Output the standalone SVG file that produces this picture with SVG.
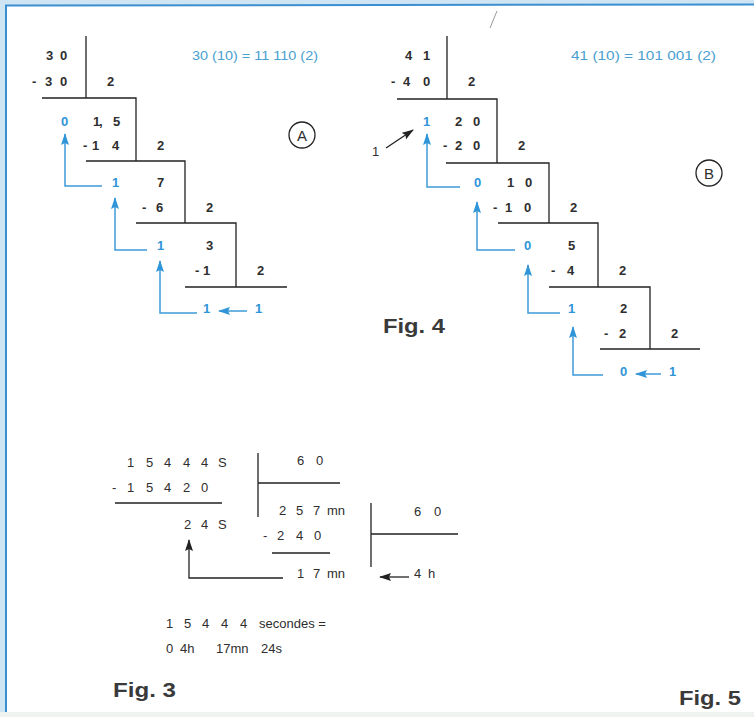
<svg xmlns="http://www.w3.org/2000/svg" width="754" height="717" viewBox="0 0 754 717">
<defs>
<style>
.d{font-family:"Liberation Sans",Arial,sans-serif;font-size:13px;font-weight:bold;fill:#2e2e2e}
.t{font-family:"Liberation Sans",Arial,sans-serif;font-size:13px;fill:#2e2e2e}
.b{fill:#2f95d8}
.eq{font-family:"Liberation Sans",Arial,sans-serif;font-size:13.5px;fill:#4aa0cf}
.fig{font-family:"Liberation Sans",Arial,sans-serif;font-size:21px;font-weight:bold;fill:#3a3a3a}
.ln{stroke:#222;stroke-width:1.3;fill:none}
.ba{stroke:#3d9bd8;stroke-width:1.5;fill:none;marker-end:url(#ab)}
.ka{stroke:#222;stroke-width:1.3;fill:none;marker-end:url(#ak)}
.circ{fill:none;stroke:#222;stroke-width:1.3}
.cl{font-family:"Liberation Sans",Arial,sans-serif;font-size:15px;fill:#2e2e2e}
</style>
<marker id="ab" markerUnits="userSpaceOnUse" markerWidth="12" markerHeight="8" refX="11" refY="4" orient="auto">
<path d="M0,0 L12,4 L0,8 L2,4 z" fill="#2f95d8"/>
</marker>
<marker id="ak" markerUnits="userSpaceOnUse" markerWidth="12" markerHeight="8" refX="11" refY="4" orient="auto">
<path d="M0,0 L12,4 L0,8 L2,4 z" fill="#222"/>
</marker>
</defs>
<rect x="0" y="0" width="754" height="717" fill="#ffffff"/>
<g id="frame">
<rect x="0" y="0" width="754" height="5" fill="#cfe5f4"/>
<rect x="0" y="0" width="5" height="717" fill="#cfe5f4"/>
<rect x="0" y="712" width="754" height="5" fill="#eef3ef"/>
<line x1="5" y1="5.5" x2="754" y2="4.5" stroke="#3b8fd0" stroke-width="2"/>
<line x1="6" y1="5" x2="6" y2="712" stroke="#3b8fd0" stroke-width="2"/>
<line x1="490" y1="28" x2="497" y2="11" stroke="#999" stroke-width="1"/>
</g>

<g id="fig4A">
<g id="A-lines">
<path class="ln" d="M86,36 V98 M42,98 H136 V161 M86,161 H185 V223 M136,223 H236 V287 M185,287 H287"/>
</g>
<text class="d" x="46 60" y="60">30</text>
<text class="d" x="32 45 60" y="86">-30</text>
<text class="d" x="107" y="86">2</text>
<text class="d b" x="61" y="126">0</text>
<text class="d" x="93 99 113" y="126">1,5</text>
<text class="d" x="83 92 112" y="150">-14</text>
<text class="d" x="157" y="150">2</text>
<text class="d b" x="112" y="187">1</text>
<text class="d" x="157" y="187">7</text>
<text class="d" x="142 156" y="212">-6</text>
<text class="d" x="206" y="212">2</text>
<text class="d b" x="157" y="250">1</text>
<text class="d" x="206" y="250">3</text>
<text class="d" x="195 203" y="275">-1</text>
<text class="d" x="257" y="275">2</text>
<text class="d b" x="203" y="313">1</text>
<text class="d b" x="255" y="313">1</text>
<text class="eq" x="192" y="60" textLength="126" lengthAdjust="spacingAndGlyphs">30 (10) = 11 110 (2)</text>
<g id="A-label"><circle class="circ" cx="302" cy="135" r="13"/><text class="cl" x="302" y="140.5" text-anchor="middle">A</text></g>
</g>

<g id="fig4B">
<g id="B-lines">
<path class="ln" d="M447,36 V99 M397,99 H497 V163 M446,163 H549 V223 M498,223 H598 V287 M549,287 H650 V349 M600,349 H700"/>
</g>
<text class="d" x="405 423" y="60">41</text>
<text class="d" x="391 403 423" y="86">-40</text>
<text class="d" x="468" y="86">2</text>
<text class="d b" x="423" y="126">1</text>
<text class="d" x="455 473" y="126">20</text>
<text class="d" x="443 455 473" y="150">-20</text>
<text class="d" x="518" y="150">2</text>
<text class="t" x="372" y="156">1</text>
<text class="d b" x="474" y="187">0</text>
<text class="d" x="507 525" y="187">10</text>
<text class="d" x="493 505 524" y="212">-10</text>
<text class="d" x="570" y="212">2</text>
<text class="d b" x="524" y="250">0</text>
<text class="d" x="568" y="250">5</text>
<text class="d" x="551 567" y="275">-4</text>
<text class="d" x="619" y="275">2</text>
<text class="d b" x="568" y="313">1</text>
<text class="d" x="620" y="313">2</text>
<text class="d" x="604 619" y="338">-2</text>
<text class="d" x="671" y="338">2</text>
<text class="d b" x="620" y="376">0</text>
<text class="d b" x="669" y="376">1</text>
<text class="eq" x="571" y="60" textLength="145" lengthAdjust="spacingAndGlyphs">41 (10) = 101 001 (2)</text>
<g id="B-label"><circle class="circ" cx="709" cy="173" r="13"/><text class="cl" x="709" y="178.5" text-anchor="middle">B</text></g>
</g>

<g id="fig3">
<text class="t" x="127 146 164 183 201 218" y="467">15444S</text>
<text class="t" x="112 127 146 164 183 201" y="492">-15420</text>
<text class="t" x="297 316" y="465">60</text>
<text class="t" x="279 296 313 327" y="515">257mn</text>
<text class="t" x="184 201 218" y="529">24S</text>
<text class="t" x="263 277 296 314" y="540">-240</text>
<text class="t" x="414 434" y="516">60</text>
<text class="t" x="297 313 327" y="578">17mn</text>
<text class="t" x="414 428" y="578">4h</text>
<path class="ln" d="M115,503 H222 M258,453 V517 M258,483 H340 M272,553 H330 M371,503 V567 M371,534 H458"/>
<text class="t" y="628"><tspan x="166">1</tspan><tspan x="184">5</tspan><tspan x="202">4</tspan><tspan x="221">4</tspan><tspan x="240">4</tspan><tspan x="259">secondes =</tspan></text>
<text class="t" y="653"><tspan x="166">0</tspan><tspan x="180">4h</tspan><tspan x="216">17mn</tspan><tspan x="261">24s</tspan></text>
</g>

<g id="connectors">
<path class="ba" d="M102,186 H65 V134"/>
<path class="ba" d="M147,250 H115 V198"/>
<path class="ba" d="M197,313 H160 V261"/>
<path class="ba" d="M247,311 H219"/>
<path class="ba" d="M460,187 H427 V134"/>
<path class="ba" d="M515,250 H477 V202"/>
<path class="ba" d="M560,313 H528 V265"/>
<path class="ba" d="M603,375 H573 V327"/>
<path class="ba" d="M661,374 H636"/>
<path class="ka" d="M386,148 L413,130"/>
<path class="ka" d="M283,578 H189 V540"/>
<path class="ka" d="M409,577 H380"/>
</g>

<g id="captions">
<text class="fig" x="383" y="333" textLength="62" lengthAdjust="spacingAndGlyphs">Fig. 4</text>
<text class="fig" x="113" y="697" textLength="63" lengthAdjust="spacingAndGlyphs">Fig. 3</text>
<text class="fig" x="679" y="705" textLength="62" lengthAdjust="spacingAndGlyphs">Fig. 5</text>
</g>
</svg>
